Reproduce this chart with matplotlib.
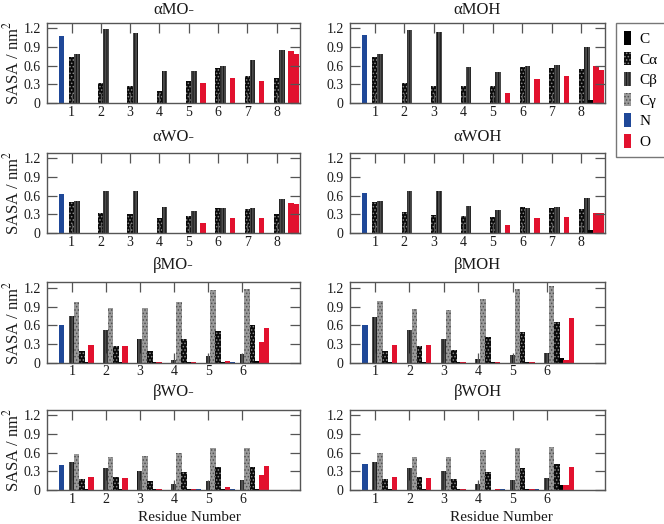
import matplotlib
matplotlib.use('Agg')
import matplotlib.pyplot as plt
import numpy as np
from matplotlib.patches import Patch

plt.rcParams['font.family'] = ['Liberation Serif', 'DejaVu Serif']
plt.rcParams['mathtext.fontset'] = 'stix'
plt.rcParams['hatch.linewidth'] = 0.7

# ---------------- data ----------------
alpha_res = [1, 2, 3, 4, 5, 6, 7, 8]
beta_res = [1, 2, 3, 4, 5, 6]

# alpha panels: N, Ca, Cb, C, O per residue; OXT for last residue
aMOm_N = [1.08, 0, 0, 0, 0, 0, 0, 0]
aMOm_CA = [0.745, 0.33, 0.27, 0.20, 0.35, 0.56, 0.43, 0.41]
aMOm_CB = [0.78, 1.19, 1.12, 0.51, 0.52, 0.60, 0.69, 0.86]
aMOm_C = [0, 0, 0, 0, 0, 0, 0, 0]
aMOm_O = [0, 0, 0, 0, 0.33, 0.41, 0.36, 0.83]
aMOm_OXT = 0.79

aMOH_N = [1.10, 0, 0, 0, 0, 0, 0, 0]
aMOH_CA = [0.74, 0.33, 0.27, 0.27, 0.27, 0.58, 0.56, 0.54]
aMOH_CB = [0.78, 1.18, 1.14, 0.58, 0.50, 0.60, 0.61, 0.905]
aMOH_C = [0, 0, 0, 0, 0, 0, 0, 0.05]
aMOH_O = [0, 0, 0, 0, 0.17, 0.38, 0.43, 0.60]
aMOH_OXT = 0.53

aWOm_N = [0.63, 0, 0, 0, 0, 0, 0, 0]
aWOm_CA = [0.50, 0.33, 0.30, 0.25, 0.27, 0.41, 0.38, 0.31]
aWOm_CB = [0.515, 0.68, 0.68, 0.42, 0.36, 0.41, 0.41, 0.55]
aWOm_C = [0, 0, 0, 0, 0, 0, 0, 0]
aWOm_O = [0, 0, 0.005, 0.005, 0.16, 0.24, 0.25, 0.48]
aWOm_OXT = 0.47

aWOH_N = [0.64, 0, 0, 0, 0, 0, 0, 0]
aWOH_CA = [0.50, 0.34, 0.29, 0.28, 0.26, 0.42, 0.41, 0.385]
aWOH_CB = [0.51, 0.68, 0.68, 0.43, 0.37, 0.41, 0.42, 0.57]
aWOH_C = [0, 0, 0, 0, 0, 0, 0, 0.05]
aWOH_O = [0, 0, 0.005, 0, 0.13, 0.235, 0.26, 0.32]
aWOH_OXT = 0.33

# beta panels: N, Cb, Cg, Ca, C, O per residue; OXT for last residue
bMOm_N = [0.60, 0, 0, 0, 0, 0.01]
bMOm_CB = [0.75, 0.52, 0.38, 0.04, 0.10, 0.135]
bMOm_CG = [0.97, 0.87, 0.88, 0.97, 1.17, 1.19]
bMOm_CA = [0.18, 0.26, 0.18, 0.38, 0.51, 0.61]
bMOm_C = [0.01, 0.01, 0.005, 0.005, 0.005, 0.025]
bMOm_O = [0.29, 0.26, 0.005, 0.005, 0.02, 0.335]
bMOm_OXT = 0.56

bMOH_N = [0.60, 0, 0, 0, 0, 0]
bMOH_CB = [0.74, 0.52, 0.38, 0.06, 0.12, 0.155]
bMOH_CG = [0.995, 0.86, 0.85, 1.03, 1.19, 1.23]
bMOH_CA = [0.18, 0.26, 0.20, 0.42, 0.49, 0.655]
bMOH_C = [0.01, 0.01, 0.005, 0.005, 0.005, 0.08]
bMOH_O = [0.29, 0.28, 0.005, 0.005, 0.005, 0.04]
bMOH_OXT = 0.715

bWOm_N = [0.40, 0, 0, 0, 0.01, 0.02]
bWOm_CB = [0.45, 0.35, 0.30, 0.09, 0.145, 0.165]
bWOm_CG = [0.58, 0.52, 0.54, 0.59, 0.67, 0.67]
bWOm_CA = [0.17, 0.205, 0.135, 0.28, 0.36, 0.365]
bWOm_C = [0.02, 0.02, 0.01, 0.01, 0.01, 0.02]
bWOm_O = [0.20, 0.19, 0.01, 0.01, 0.04, 0.24]
bWOm_OXT = 0.38

bWOH_N = [0.41, 0, 0, 0, 0.015, 0.02]
bWOH_CB = [0.45, 0.35, 0.30, 0.10, 0.165, 0.19]
bWOH_CG = [0.59, 0.52, 0.52, 0.64, 0.67, 0.69]
bWOH_CA = [0.17, 0.20, 0.17, 0.29, 0.35, 0.41]
bWOH_C = [0.01, 0.01, 0.01, 0.005, 0.01, 0.085]
bWOH_O = [0.20, 0.19, 0.01, 0.01, 0.01, 0.085]
bWOH_OXT = 0.36

titles = ['αMO-', 'αMOH', 'αWO-', 'αWOH', 'βMO-', 'βMOH', 'βWO-', 'βWOH']
legend_labels = ['C', 'Cα', 'Cβ', 'Cγ', 'N', 'O']
y_ticks = [0, 0.3, 0.6, 0.9, 1.2]
y_ticklabels = ['0', '0.3', '0.6', '0.9', '1.2']

# ---------------- styles ----------------
STY = {
    'C': dict(facecolor='black', edgecolor='black'),
    'CA': dict(facecolor='#0a0a0a', edgecolor='#8a8a8a', hatch='.....'),
    'CB': dict(facecolor='#4d4d4d', edgecolor='#151515', hatch='||||||'),
    'CG': dict(facecolor='#9a9a9a', edgecolor='#505050', hatch='.....'),
    'N': dict(facecolor='#1f4898', edgecolor='#1f4898'),
    'O': dict(facecolor='#e2112e', edgecolor='#e2112e'),
}
SPINE = '#555555'
TXT = '#1a1a1a'

W, H = 664, 524
fig = plt.figure(figsize=(W / 100, H / 100), dpi=100)

col_x = [47, 350]
col_w = [253, 255]
row_top = [22.7, 152.7, 282.3, 409.5]
ax_h = 80.4
title_y = [10, 137, 265, 392]


def make_ax(r, c):
    l = col_x[c] / W
    b = 1 - (row_top[r] + ax_h) / H
    ax = fig.add_axes([l, b, col_w[c] / W, ax_h / H])
    for s in ax.spines.values():
        s.set_color(SPINE)
        s.set_linewidth(1.0)
    ax.tick_params(direction='in', top=True, right=True, length=7, width=0.9,
                   color=SPINE, labelsize=10, labelcolor=TXT)
    ax.tick_params(axis='y', pad=4.5)
    ax.tick_params(axis='x', pad=2.0)
    ax.set_ylim(0, 1.29)
    ax.set_yticks(y_ticks)
    ax.set_yticklabels(y_ticklabels)
    fig.text((col_x[c] + col_w[c] / 2) / W, 1 - title_y[r] / H, titles[r * 2 + c],
             ha='center', va='center', fontsize=12, color=TXT)
    return ax


def bar(ax, x, vals, off, w, key):
    ax.bar(np.asarray(x, float) + off, vals, w, linewidth=0, zorder=1, **STY[key])


alpha_sets = [
    (aMOm_N, aMOm_CA, aMOm_CB, aMOm_C, aMOm_O, aMOm_OXT),
    (aMOH_N, aMOH_CA, aMOH_CB, aMOH_C, aMOH_O, aMOH_OXT),
    (aWOm_N, aWOm_CA, aWOm_CB, aWOm_C, aWOm_O, aWOm_OXT),
    (aWOH_N, aWOH_CA, aWOH_CB, aWOH_C, aWOH_O, aWOH_OXT),
]
beta_sets = [
    (bMOm_N, bMOm_CB, bMOm_CG, bMOm_CA, bMOm_C, bMOm_O, bMOm_OXT),
    (bMOH_N, bMOH_CB, bMOH_CG, bMOH_CA, bMOH_C, bMOH_O, bMOH_OXT),
    (bWOm_N, bWOm_CB, bWOm_CG, bWOm_CA, bWOm_C, bWOm_O, bWOm_OXT),
    (bWOH_N, bWOH_CB, bWOH_CG, bWOH_CA, bWOH_C, bWOH_O, bWOH_OXT),
]

for i, (N, CA, CB, C, O, OXT) in enumerate(alpha_sets):
    r, c = divmod(i, 2)
    ax = make_ax(r, c)
    w = 0.19
    bar(ax, alpha_res, N, -0.35, w, 'N')
    bar(ax, alpha_res, CA, 0.0, w, 'CA')
    bar(ax, alpha_res, CB, 0.18, w, 'CB')
    bar(ax, alpha_res, C, 0.33, w, 'C')
    bar(ax, alpha_res, O, 0.49, w, 'O')
    bar(ax, [alpha_res[-1]], [OXT], 0.66, w, 'O')
    ax.set_xlim(0.16, 8.8)
    ax.set_xticks(alpha_res)

for i, (N, CB, CG, CA, C, O, OXT) in enumerate(beta_sets):
    r, c = divmod(i + 4, 2)
    ax = make_ax(r, c)
    w = 0.16
    bar(ax, beta_res, N, -0.30, w, 'N')
    bar(ax, beta_res, CB, 0.0, w, 'CB')
    bar(ax, beta_res, CG, 0.14, w, 'CG')
    bar(ax, beta_res, CA, 0.29, w, 'CA')
    bar(ax, beta_res, C, 0.42, w, 'C')
    bar(ax, beta_res, O, 0.56, w, 'O')
    bar(ax, [beta_res[-1]], [OXT], 0.71, w, 'O')
    ax.set_xlim(0.27, 7.69)
    ax.set_xticks(beta_res)

# y labels (left column)
for r in range(4):
    yc = row_top[r] + ax_h / 2
    fig.text(12.5 / W, 1 - yc / H, 'SASA / nm$^2$', rotation=90, ha='center', va='center',
             fontsize=12, color=TXT)

# x labels (bottom row)
for xc in (189, 501):
    fig.text(xc / W, 1 - 523.9 / H, 'Residue Number', ha='center', va='bottom',
             fontsize=11, color=TXT)

# legend
keys = ['C', 'CA', 'CB', 'CG', 'N', 'O']
handles = [Patch(linewidth=0, **STY[k]) for k in keys]
leg = fig.legend(handles, legend_labels, loc='upper left',
                 bbox_to_anchor=(616 / W, 1 - 22.7 / H), fontsize=11,
                 handlelength=0.45, handleheight=1.0, handletextpad=0.55,
                 labelspacing=0.36, borderpad=0.55, borderaxespad=0,
                 fancybox=False, frameon=True)
leg.get_frame().set_edgecolor(SPINE)
leg.get_frame().set_linewidth(1.0)

fig.savefig('out.png', dpi=100)
